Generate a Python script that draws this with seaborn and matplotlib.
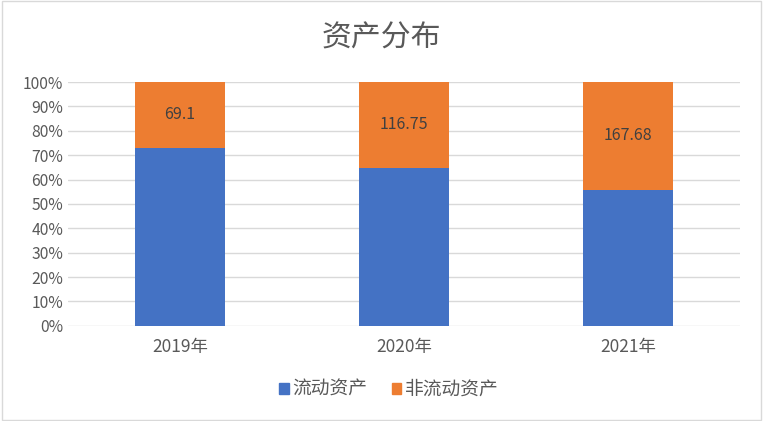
import numpy as np
import matplotlib
matplotlib.use("Agg")
import matplotlib.pyplot as plt
import matplotlib.patches as mpatches
import pandas as pd
import seaborn as sns

years = ["2019年", "2020年", "2021年"]
current_assets = [187.8, 215.9, 212.5]
noncurrent_assets = [69.1, 116.75, 167.68]
series_names = ["流动资产", "非流动资产"]
colors = ["#4472C4", "#ED7D31"]

sns.set_style("white")
plt.rcParams['font.family'] = ['Noto Sans CJK SC', 'DejaVu Sans']

df = pd.DataFrame({"year": years, "cur": current_assets, "non": noncurrent_assets})
df["total"] = df["cur"] + df["non"]
df["cur_pct"] = df["cur"] / df["total"] * 100
df["all_pct"] = 100.0

fig = plt.figure(figsize=(7.63, 4.21), dpi=100)
ax = fig.add_axes([0.089, 0.226, 0.881, 0.579])

# orange bar across the full height, blue bar on top of it from zero
sns.barplot(data=df, x="year", y="all_pct", color=colors[1], width=0.4,
            saturation=1, linewidth=0, ax=ax, zorder=3)
sns.barplot(data=df, x="year", y="cur_pct", color=colors[0], width=0.4,
            saturation=1, linewidth=0, ax=ax, zorder=3)

for i, row in df.iterrows():
    ax.text(i, (row["cur_pct"] + 100) / 2, f"{row['non']:g}", ha="center",
            va="center", fontsize=11.5, color="#404040", zorder=4)

ax.set_ylim(0, 100)
ax.set_yticks(np.arange(0, 101, 10))
ax.set_yticklabels([f"{v}%" for v in range(0, 101, 10)])
ax.set_xlim(-0.5, 2.5)
ax.yaxis.grid(True, color="#D9D9D9", linewidth=1, zorder=0)
ax.set_axisbelow(True)
for s in ax.spines.values():
    s.set_visible(False)
ax.tick_params(axis="both", length=0, labelsize=11.3, labelcolor="#595959")
ax.tick_params(axis="x", pad=9, labelsize=12.5)
ax.set_xlabel("")
ax.set_ylabel("")

fig.text(0.5, 0.91, "资产分布", ha="center", va="center", fontsize=21.5, color="#595959")

handles = [mpatches.Patch(color=c, label=n) for c, n in zip(colors, series_names)]
fig.legend(handles=handles, loc="center", bbox_to_anchor=(0.51, 0.075), ncol=2,
           frameon=False, fontsize=13.5, handlelength=0.5, handleheight=0.5,
           handletextpad=0.2, columnspacing=1.3, labelcolor="#595959")

fig.patches.append(mpatches.Rectangle((0.002, 0.003), 0.996, 0.994, transform=fig.transFigure,
                                      fill=False, edgecolor="#D9D9D9", linewidth=1))

fig.savefig("out.png", dpi=100)
